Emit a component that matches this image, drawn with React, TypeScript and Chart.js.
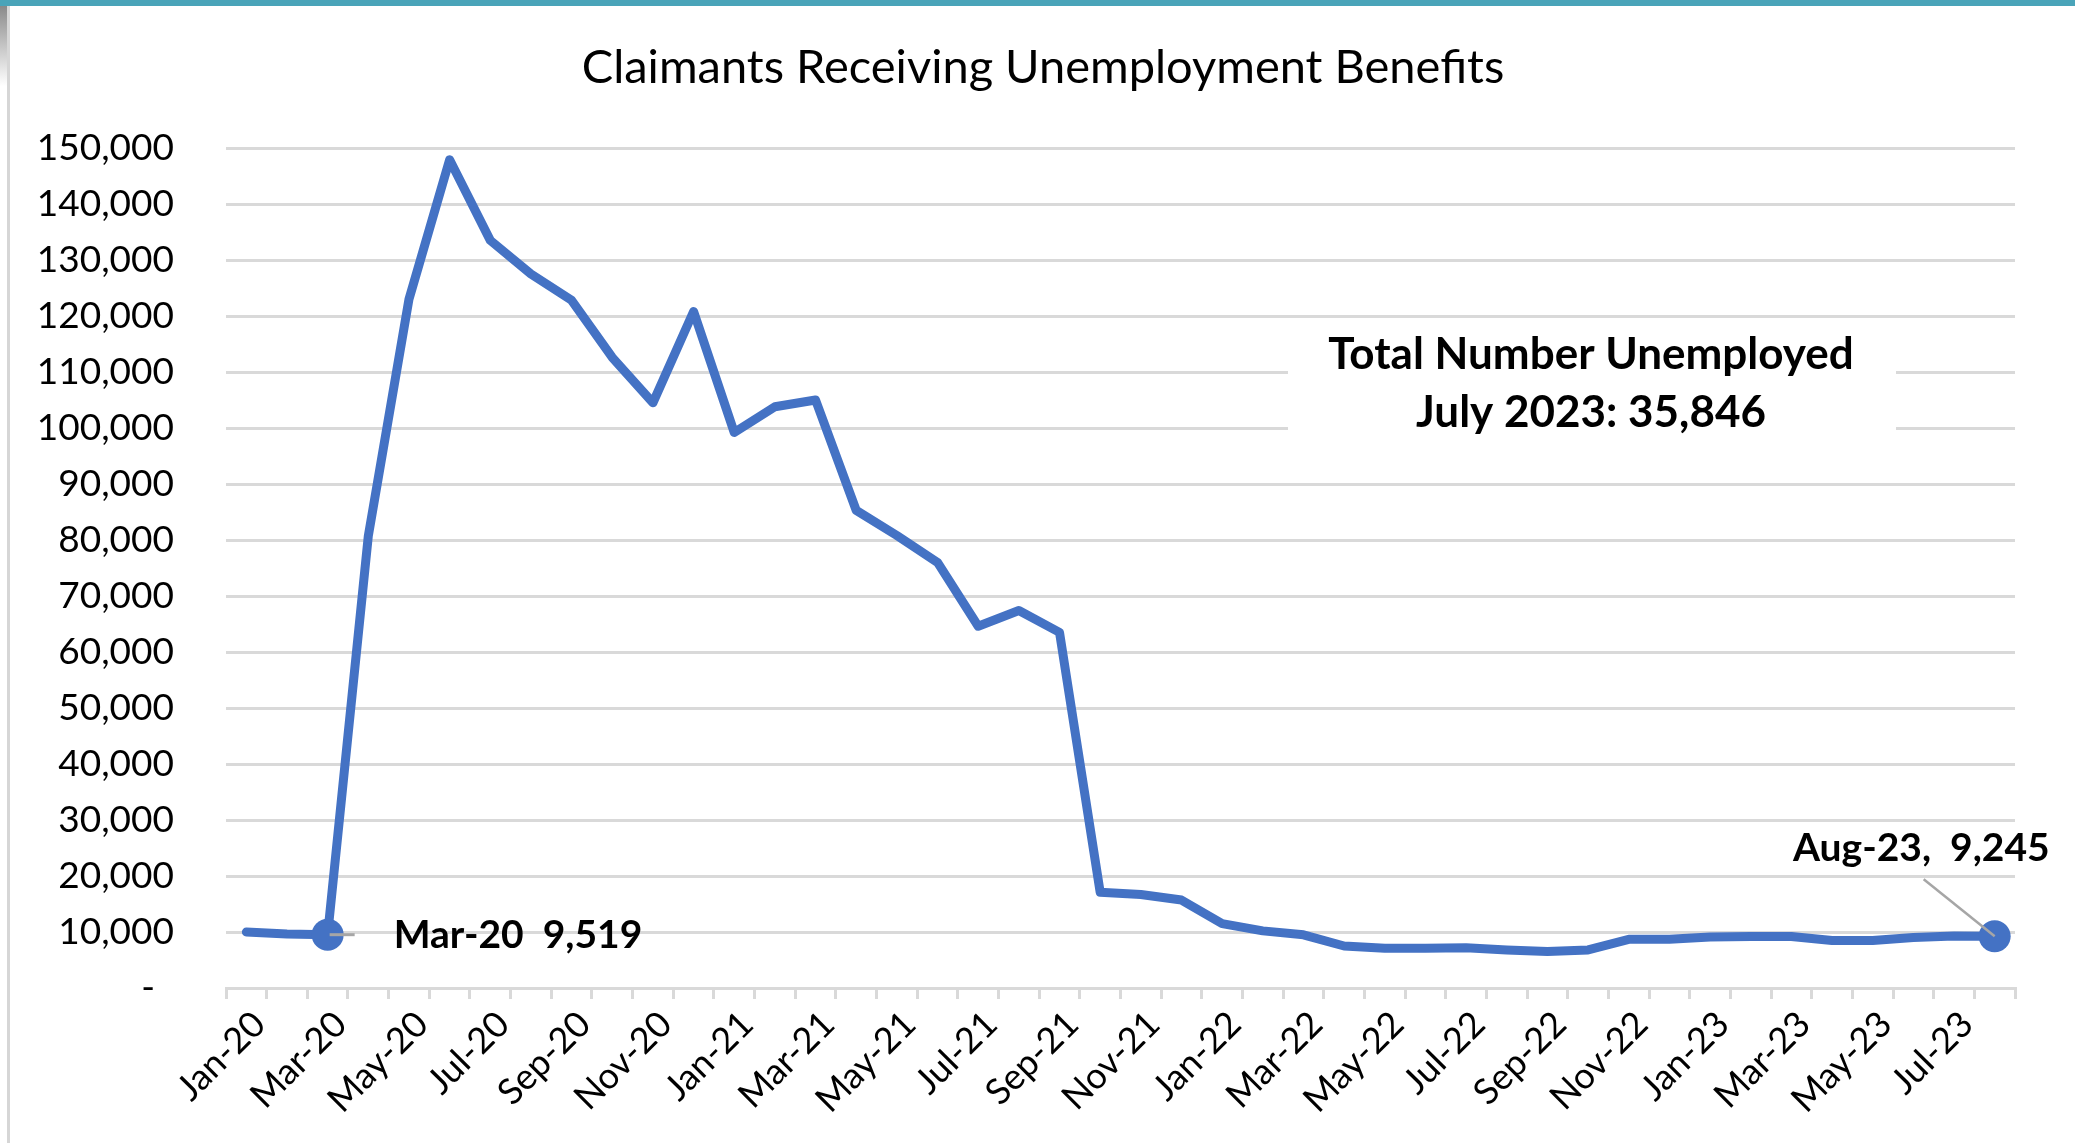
import React, { useEffect, useRef } from 'react';
import { Chart, registerables } from 'chart.js';

Chart.register(...registerables);

const TITLE = 'Claimants Receiving Unemployment Benefits';

const CATEGORIES = [
  'Jan-20', 'Feb-20', 'Mar-20', 'Apr-20', 'May-20', 'Jun-20', 'Jul-20', 'Aug-20', 'Sep-20', 'Oct-20', 'Nov-20', 'Dec-20',
  'Jan-21', 'Feb-21', 'Mar-21', 'Apr-21', 'May-21', 'Jun-21', 'Jul-21', 'Aug-21', 'Sep-21', 'Oct-21', 'Nov-21', 'Dec-21',
  'Jan-22', 'Feb-22', 'Mar-22', 'Apr-22', 'May-22', 'Jun-22', 'Jul-22', 'Aug-22', 'Sep-22', 'Oct-22', 'Nov-22', 'Dec-22',
  'Jan-23', 'Feb-23', 'Mar-23', 'Apr-23', 'May-23', 'Jun-23', 'Jul-23', 'Aug-23',
];

const CLAIMANTS = [
  9990, 9630, 9519, 80700, 123000, 147900, 133500, 127500, 122800, 112600, 104500, 120800,
  99200, 103800, 105000, 85300, 80800, 76000, 64600, 67400, 63500, 17100, 16700, 15700,
  11500, 10200, 9500, 7500, 7100, 7100, 7200, 6800, 6500, 6800, 8700, 8700,
  9100, 9200, 9200, 8500, 8500, 9000, 9300, 9245,
];

const Y_MIN = 0;
const Y_MAX = 150000;
const Y_STEP = 10000;

const MARKED_POINTS = [2, 43];
const POINT_LABELS = ['Mar-20  9,519', 'Aug-23,  9,245'];
const BOX_LINES = ['Total Number Unemployed', 'July 2023: 35,846'];

const BLUE = '#4472C4';
const GRID = '#d9d9d9';

const overlayPlugin = {
  id: 'overlay',
  afterDatasetsDraw(chart: any) {
    const ctx = chart.ctx as CanvasRenderingContext2D;
    const meta = chart.getDatasetMeta(0);
    const p1 = meta.data[MARKED_POINTS[0]];
    const p2 = meta.data[MARKED_POINTS[1]];
    ctx.save();
    // leader lines
    ctx.strokeStyle = '#a6a6a6';
    ctx.lineWidth = 3;
    ctx.beginPath();
    ctx.moveTo(p1.x + 2, p1.y);
    ctx.lineTo(p1.x + 27, p1.y);
    ctx.stroke();
    ctx.lineWidth = 2.5;
    ctx.beginPath();
    ctx.moveTo(p2.x, p2.y);
    ctx.lineTo(p2.x - 71, p2.y - 57);
    ctx.stroke();
    // point labels
    ctx.fillStyle = '#000';
    ctx.font = 'bold 39px Lato';
    ctx.textBaseline = 'middle';
    ctx.textAlign = 'left';
    ctx.fillText(POINT_LABELS[0], p1.x + 66, p1.y + 1);
    ctx.textAlign = 'right';
    ctx.fillText(POINT_LABELS[1], p2.x + 55, p2.y - 88);

    // text box
    const yTop = chart.scales.y.getPixelForValue(120000);
    ctx.fillStyle = '#ffffff';
    ctx.fillRect(1288, yTop + 2, 608, 124);
    ctx.fillStyle = '#000';
    ctx.font = 'bold 44px Lato';
    ctx.textAlign = 'center';
    ctx.textBaseline = 'alphabetic';
    ctx.fillText(BOX_LINES[0], 1591, 369);
    ctx.fillText(BOX_LINES[1], 1591, 427);

    // title
    ctx.font = '47px Lato';
    ctx.fillText(TITLE, 1043, 83);
    ctx.restore();
  },
};

export default function App() {
  const ref = useRef<HTMLCanvasElement | null>(null);

  useEffect(() => {
    if (!ref.current) return;
    const chart = new Chart(ref.current, {
      type: 'line',
      data: {
        labels: CATEGORIES,
        datasets: [
          {
            data: CLAIMANTS,
            borderColor: BLUE,
            backgroundColor: BLUE,
            borderWidth: 9,
            borderJoinStyle: 'round',
            borderCapStyle: 'round',
            tension: 0,
            pointRadius: CLAIMANTS.map((_, i) => (MARKED_POINTS.includes(i) ? 16 : 0)),
            pointHoverRadius: 0,
            pointBorderWidth: 0,
            pointBackgroundColor: BLUE,
            clip: false,
          } as any,
        ],
      },
      options: {
        responsive: false,
        animation: false,
        events: [],
        layout: { padding: { top: 148, right: 60, bottom: 0, left: 0 } },
        plugins: {
          legend: { display: false },
          title: { display: false },
          tooltip: { enabled: false },
        },
        scales: {
          x: {
            type: 'category',
            offset: true,
            grid: {
              offset: true,
              drawOnChartArea: false,
              drawTicks: true,
              tickLength: 11,
              color: GRID,
              lineWidth: 3,
            },
            border: { display: true, color: GRID, width: 3 },
            ticks: {
              autoSkip: false,
              maxRotation: 45,
              minRotation: 45,
              padding: 4,
              labelOffset: 13,
              color: '#000',
              font: { family: 'Lato', size: 36 },
              callback: (_v: any, i: number) => (i % 2 === 0 ? CATEGORIES[i] : ''),
            },
            afterFit: (s: any) => {
              s.height = 155;
            },
          },
          y: {
            min: Y_MIN,
            max: Y_MAX,
            grid: { color: GRID, lineWidth: 3, drawTicks: false },
            border: { display: false },
            ticks: {
              stepSize: Y_STEP,
              padding: 52,
              color: '#000',
              font: { family: 'Lato', size: 37 },
              callback: (v: any) => (v === 0 ? '-  ' : Number(v).toLocaleString('en-US')),
            },
            afterFit: (s: any) => {
              s.width = 226;
            },
          },
        },
      },
      plugins: [overlayPlugin],
    });
    return () => chart.destroy();
  }, []);

  return (
    <div style={{ position: 'absolute', left: 0, top: 0, width: 2075, height: 1143, background: '#fff', overflow: 'hidden' }}>
      <canvas ref={ref} width={2075} height={1143} style={{ position: 'absolute', left: 0, top: 0, width: 2075, height: 1143 }} />
      <div style={{ position: 'absolute', left: 0, top: 0, width: 2075, height: 6, background: '#4aa4b9' }} />
      <div style={{ position: 'absolute', left: 0, top: 6, width: 7, height: 80, background: 'linear-gradient(#8a8a8a, #ffffff)' }} />
      <div style={{ position: 'absolute', left: 7, top: 6, width: 3, height: 1137, background: '#d6d6d6' }} />
    </div>
  );
}
